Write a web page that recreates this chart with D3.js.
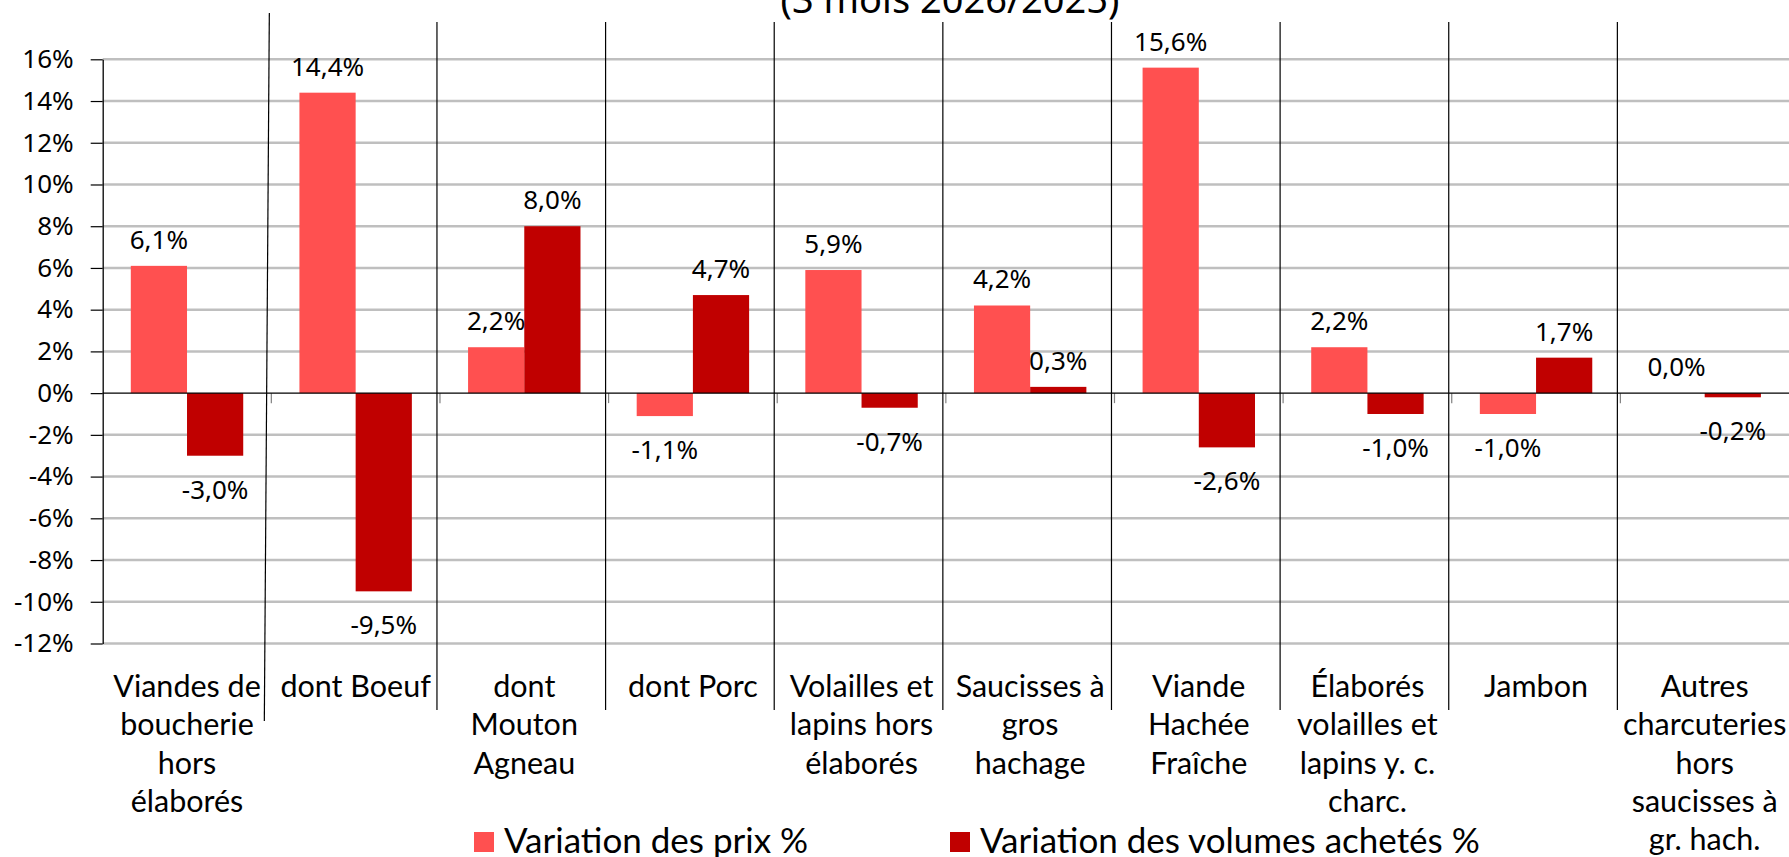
<!DOCTYPE html>
<html><head><meta charset="utf-8">
<script src="https://cdn.jsdelivr.net/npm/d3@7"></script>
<style>body{margin:0;background:#fff;overflow:hidden}</style>
</head><body><svg id="c" width="1789" height="857"></svg>
<script>
const categories = ["Viandes de boucherie hors élaborés","dont Boeuf","dont Mouton Agneau","dont Porc","Volailles et lapins hors élaborés","Saucisses à gros hachage","Viande Hachée Fraîche","Élaborés volailles et lapins y. c. charc.","Jambon","Autres charcuteries hors saucisses à gr. hach."];
const labelLines = [["Viandes de","boucherie","hors","élaborés"],["dont Boeuf"],["dont","Mouton","Agneau"],["dont Porc"],["Volailles et","lapins hors","élaborés"],["Saucisses à","gros","hachage"],["Viande","Hachée","Fraîche"],["Élaborés","volailles et","lapins y. c.","charc."],["Jambon"],["Autres","charcuteries","hors","saucisses à","gr. hach."]];
const prix = [6.1, 14.4, 2.2, -1.1, 5.9, 4.2, 15.6, 2.2, -1.0, 0.0];
const volumes = [-3.0, -9.5, 8.0, 4.7, -0.7, 0.3, -2.6, -1.0, 1.7, -0.2];
const yTicks = [-12,-10,-8,-6,-4,-2,0,2,4,6,8,10,12,14,16];
const seriesNames = ["Variation des prix %","Variation des volumes achetés %"];
const seriesColors = ["#FF5050","#C00000"];
const titleText = "(3 mois 2026/2025)";

const svg = d3.select("#c");
const L = 102.7, R = 1789, T = 59.3, B = 643.5;
const numFont = "'Noto Sans', sans-serif";
const catFont = "Lato, sans-serif";

const x = d3.scaleBand().domain(categories).range([L, R]).paddingInner(0).paddingOuter(0);
const xs = d3.scaleBand().domain([0,1]).range([0, x.bandwidth()]).paddingInner(0).paddingOuter(0.5);
const y = d3.scaleLinear().domain([-12, 16]).range([B, T]);

// title
svg.append("text").attr("x", 950).attr("y", 13).attr("text-anchor","middle")
  .attr("font-family", numFont).attr("font-size", 38).attr("fill","#000").text(titleText);

// gridlines
svg.append("g").selectAll("line").data(yTicks.filter(d=>d!==0)).join("line")
  .attr("x1", L).attr("x2", R).attr("y1", d=>y(d)).attr("y2", d=>y(d))
  .attr("stroke","#bfbfbf").attr("stroke-width",2.5);

// separators
const seps = categories.slice(1);
svg.append("g").selectAll("line").data(seps).join("line")
  .attr("x1", (d,i)=> x(d) - (i===0?2:3)).attr("x2",(d,i)=> x(d) - (i===0?7:3))
  .attr("y1", (d,i)=> i===0?13:22).attr("y2",(d,i)=> i===0?721:710)
  .attr("stroke","#000").attr("stroke-width",1.2);

// bars
const series = [prix, volumes];
series.forEach((vals, si) => {
  svg.append("g").selectAll("rect").data(vals).join("rect")
    .attr("x", (d,i)=> x(categories[i]) + xs(si))
    .attr("width", xs.bandwidth())
    .attr("y", d=> y(Math.max(0,d)))
    .attr("height", d=> Math.abs(y(d)-y(0)))
    .attr("fill", seriesColors[si]);
});

// category ticks on zero line
svg.append("g").selectAll("line").data(seps).join("line")
  .attr("x1", d=>x(d)).attr("x2", d=>x(d)).attr("y1", y(0)).attr("y2", y(0)+10)
  .attr("stroke","#808080").attr("stroke-width",1.2);

// zero line
svg.append("line").attr("x1",L).attr("x2",R).attr("y1",y(0)).attr("y2",y(0)).attr("stroke","#000").attr("stroke-width",1.3);

// y axis
const yAxis = d3.axisLeft(y).tickValues(yTicks).tickSize(12).tickSizeOuter(0).tickPadding(17).tickFormat(d=>d+"%");
const ga = svg.append("g").attr("transform",`translate(${L},0)`).call(yAxis);
ga.select(".domain").attr("stroke","#000").attr("stroke-width",1.3);
ga.selectAll(".tick line").attr("stroke","#000").attr("stroke-width",1.2);
ga.selectAll(".tick text").attr("font-family",numFont).attr("font-size",26).attr("fill","#000");

// data labels
const fmt = v => d3.format(".1f")(v).replace(/\u2212/g,"-").replace("-0.0","0.0").replace(".",",") + "%";
series.forEach((vals, si) => {
  svg.append("g").selectAll("text").data(vals).join("text")
    .attr("x", (d,i)=> x(categories[i]) + xs(si) + xs.bandwidth()/2)
    .attr("y", d=> d>=0 ? y(d)-17 : y(d)+43)
    .attr("text-anchor","middle").attr("font-family",numFont).attr("font-size",26).attr("fill","#000")
    .text(d=>fmt(d));
});

// category labels
const cl = svg.append("g");
categories.forEach((c,i)=>{
  const t = cl.append("text").attr("text-anchor","middle").attr("font-family",catFont).attr("font-size",30.5).attr("fill","#000");
  labelLines[i].forEach((ln,j)=>{
    t.append("tspan").attr("x", x(c)+x.bandwidth()/2).attr("y", 697 + j*38.3).text(ln);
  });
});

// legend
const legX = [474, 950];
const lg = svg.append("g");
seriesNames.forEach((n,i)=>{
  lg.append("rect").attr("x",legX[i]).attr("y",832).attr("width",20).attr("height",20).attr("fill",seriesColors[i]);
  lg.append("text").attr("x",legX[i]+30).attr("y",853).attr("font-family",catFont).attr("font-size",35).attr("fill","#000").text(n);
});
</script></body></html>
